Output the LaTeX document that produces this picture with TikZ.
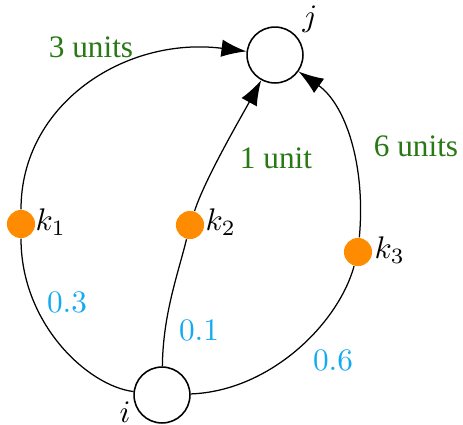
\documentclass[tikz,border=0pt]{standalone}
\usepackage{fontspec}
\newfontfamily\timesfont{Liberation Serif}
\usetikzlibrary{arrows.meta}
\definecolor{lblgreen}{RGB}{40,120,20}
\definecolor{lblblue}{RGB}{20,170,240}
\definecolor{dotorange}{RGB}{255,140,0}
\tikzset{
  bignode/.style={circle,draw,line width=0.5pt,minimum size=17.9pt,inner sep=0pt},
  dotnode/.style={circle,fill=dotorange,minimum size=9pt,inner sep=0pt},
  edge/.style={line width=0.4pt},
  arr/.style={edge,-{Latex[length=8pt,width=5.6pt]}},
  glbl/.style={text=lblgreen,font=\timesfont,inner sep=0pt},
  blbl/.style={text=lblblue,inner sep=0pt},
  mlbl/.style={inner sep=0pt}
}
\begin{document}
\begin{tikzpicture}[x=0.32pt,y=0.32pt]
\useasboundingbox (0,0) rectangle (463,424);
\node[bignode] (j) at (275,369) {};
\node[bignode] (i) at (162,29) {};
\node[dotnode] (k1) at (21,200) {};
\node[dotnode] (k2) at (190,199) {};
\node[dotnode] (k3) at (358,172) {};
\node[mlbl] (jl) at (310,405) {$j$};
\node[mlbl] (il) at (125,12) {$i$};
\node[mlbl,anchor=west] (k1l) at (35,202) {$k_1$};
\node[mlbl,anchor=west] (k2l) at (205,202) {$k_2$};
\node[mlbl,anchor=west] (k3l) at (374,174) {$k_3$};
\node[glbl] (u3) at (91,377) {3 units};
\node[glbl] (u1) at (276,266) {1 unit};
\node[glbl] (u6) at (416,278) {6 units};
\node[blbl] (p3) at (67,122) {0.3};
\node[blbl] (p1) at (199,94) {0.1};
\node[blbl] (p6) at (333,64) {0.6};
\draw[edge] (i) .. controls (88,38) and (21,100) .. (k1);
\draw[arr] (k1) .. controls (21,320) and (125,388) .. (j);
\draw[edge] (i) .. controls (163,110) and (178,150) .. (k2);
\draw[arr] (k2) .. controls (205,245) and (240,305) .. (j);
\draw[edge] (i) .. controls (270,33) and (338,100) .. (k3);
\draw[arr] (k3) .. controls (366,260) and (345,320) .. (j);
\end{tikzpicture}
\end{document}
